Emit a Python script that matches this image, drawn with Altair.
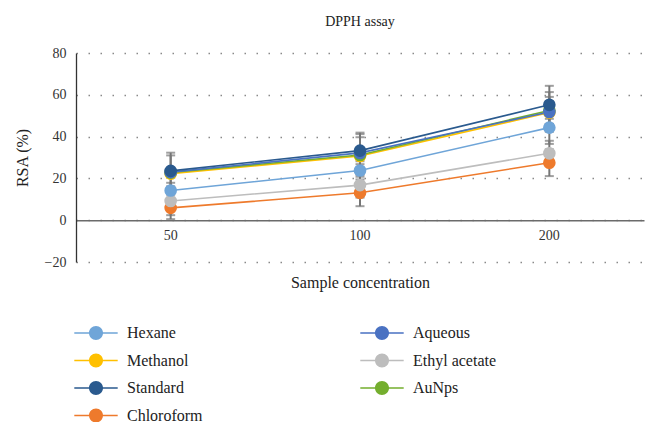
import altair as alt
import pandas as pd

concentrations = ["50", "100", "200"]
series = ["Hexane", "Methanol", "Standard", "Chloroform", "Aqueous", "Ethyl acetate", "AuNps"]
colors = ["#6FA5D8", "#FFC000", "#2A5A8E", "#EE7A2C", "#4A72C2", "#BDBDBD", "#74AE2E"]

hexane = [14.2, 23.8, 44.3]
methanol = [22.3, 30.7, 51.5]
standard = [23.6, 33.3, 55.2]
chloroform = [5.9, 13.1, 27.5]
aqueous = [23.0, 32.2, 51.8]
ethyl_acetate = [9.2, 16.8, 32.0]
aunps = [22.8, 31.2, 52.5]

hexane_err = [2.0, 3.0, 7.8]
methanol_err = [2.0, 9.0, 3.0]
standard_err = [8.7, 8.6, 9.1]
chloroform_err = [3.5, 6.4, 6.4]
aqueous_err = [8.0, 9.0, 9.5]
ethyl_acetate_err = [8.7, 6.0, 6.0]
aunps_err = [2.0, 3.0, 6.5]

vals = [hexane, methanol, standard, chloroform, aqueous, ethyl_acetate, aunps]
errs = [hexane_err, methanol_err, standard_err, chloroform_err, aqueous_err, ethyl_acetate_err, aunps_err]
draw_order = [3, 5, 0, 1, 6, 4, 2]

rows = []
for k in draw_order:
    for i, c in enumerate(concentrations):
        rows.append({"series": series[k], "line_series": series[k], "conc": c, "rsa": vals[k][i],
                     "lo": vals[k][i] - errs[k][i], "hi": vals[k][i] + errs[k][i], "ord": k})
df = pd.DataFrame(rows)

FONT = "Liberation Serif"
W, H = 568, 209

color = alt.Color("series:N", scale=alt.Scale(domain=series, range=colors),
                  legend=alt.Legend(
                      title=None, orient="none", legendX=12, legendY=272, columns=2,
                      columnPadding=157, rowPadding=11.5,
                      symbolType="M-3.1,-0.11H-0.9V0.11H-3.1Z M0.9,-0.11H3.1V0.11H0.9Z M-1,0A1,1 0 1 1 1,0A1,1 0 1 1 -1,0Z",
                      symbolSize=196, symbolStrokeWidth=0, symbolOpacity=1,
                      labelOffset=23, labelFont=FONT, labelFontSize=16, labelColor="#222222"))
# stroke scale for the lines: same colours, listed in drawing order (kept separate from the legend scale)
stroke = alt.Stroke("line_series:N",
                    scale=alt.Scale(domain=[series[k] for k in draw_order],
                                    range=[colors[k] for k in draw_order]),
                    legend=None)

x = alt.X("conc:N", sort=concentrations, title="Sample concentration",
          axis=alt.Axis(orient="bottom", offset=-H * 0.2, labelAngle=0, ticks=False, grid=False,
                        labelFont=FONT, labelFontSize=14, labelColor="#333333", labelPadding=8,
                        domainColor="#6b6b6b", domainWidth=1.5,
                        titleFont=FONT, titleFontSize=16, titleFontWeight="normal",
                        titleColor="#222222", titlePadding=32))
y = alt.Y("rsa:Q", title="RSA (%)",
          scale=alt.Scale(domain=[-20, 80], nice=False),
          axis=alt.Axis(values=[-20, 0, 20, 40, 60, 80], ticks=False, grid=True,
                        gridDash=[1.5, 10.5], gridColor="#8a8a8a", gridWidth=1.5,
                        domainColor="#333333", domainWidth=1.3,
                        labelFont=FONT, labelFontSize=14, labelColor="#333333", labelPadding=10,
                        titleFont=FONT, titleFontSize=16, titleFontWeight="normal",
                        titleColor="#222222", titlePadding=14))

base = alt.Chart(df)
bars = base.mark_rule(color="#767676", strokeWidth=2).encode(x=x, y=alt.Y("lo:Q"), y2="hi:Q")
cap_lo = base.mark_tick(color="#767676", orient="horizontal", size=9, thickness=2).encode(x=x, y=alt.Y("lo:Q"))
cap_hi = base.mark_tick(color="#767676", orient="horizontal", size=9, thickness=2).encode(x=x, y=alt.Y("hi:Q"))
lines = base.mark_line(strokeWidth=1.6).encode(x=x, y=y, stroke=stroke, detail="line_series:N",
                                                 order="ord:Q")
dots = base.mark_circle(size=160, opacity=1).encode(x=x, y=y, color=color)

chart = alt.layer(bars, cap_lo, cap_hi, lines, dots).properties(
    width=W, height=H,
    title=alt.TitleParams("DPPH assay", font=FONT, fontSize=14, fontWeight="normal",
                          color="#222222", offset=17),
    autosize=alt.AutoSizeParams(type="none"),
    padding={"left": 76, "top": 53, "right": 1, "bottom": 160},
).configure_view(stroke=None)

chart.save("out.html", embed_options={"renderer": "svg", "actions": False})
